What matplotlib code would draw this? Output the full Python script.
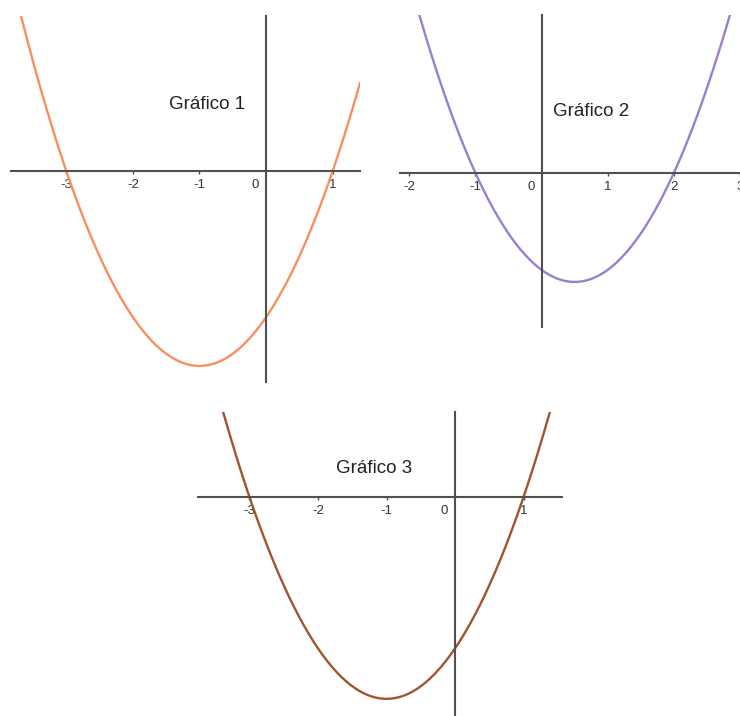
import numpy as np
import matplotlib
matplotlib.use("Agg")
import matplotlib.pyplot as plt

plt.rcParams['font.family'] = ['Liberation Sans', 'DejaVu Sans']

# each parabola y = (x - r1)(x - r2)
titles = ['Gráfico 1', 'Gráfico 2', 'Gráfico 3']
roots = [(-3, 1), (-1, 2), (-3, 1)]
colors = ['#f7905e', '#9a7fd1', '#a0552d']
xticks = [[-3, -2, -1, 1], [-2, -1, 1, 2, 3], [-3, -2, -1, 1]]
xlims = [(-3.83, 1.41), (-2.14, 2.98), (-3.75, 1.56)]
ylims = [(-4.33, 3.18), (-3.18, 3.26), (-4.32, 1.68)]
title_pos = [(-0.89, 1.36), (0.75, 1.26), (-1.18, 0.57)]

# axes boxes in pixels: left, top, right, bottom
W, H = 740, 716
boxes = [(11, 16, 360, 382), (400, 15, 740, 327), (198, 412, 562, 715)]

fig = plt.figure(figsize=(W / 100, H / 100), dpi=100)

for i in range(3):
    l, t, r, b = boxes[i]
    ax = fig.add_axes([l / W, (H - b) / H, (r - l) / W, (b - t) / H])
    ax.set_xlim(*xlims[i])
    ax.set_ylim(*ylims[i])
    ax.patch.set_alpha(0)

    for s in ['top', 'right']:
        ax.spines[s].set_visible(False)
    ax.spines['bottom'].set_position('zero')
    ax.spines['left'].set_position('zero')
    for s in ['bottom', 'left']:
        ax.spines[s].set_color('#505050')
        ax.spines[s].set_linewidth(1.5)

    ax.set_xticks(xticks[i])
    ax.set_xticklabels([str(v) for v in xticks[i]])
    ax.tick_params(axis='x', length=2, width=1, color='#505050', pad=4,
                   labelsize=9.5, labelcolor='#333333')
    ax.set_yticks([])
    # origin label sits left of the vertical axis
    ax.annotate('0', (0, 0), xytext=(-5, -6), textcoords='offset points',
                fontsize=9.5, color='#333333', ha='right', va='top')

    r1, r2 = roots[i]
    x = np.linspace(xlims[i][0], xlims[i][1], 400)
    y = (x - r1) * (x - r2)
    ax.plot(x, y, color=colors[i], lw=1.7)

    tx, ty = title_pos[i]
    ax.text(tx, ty, titles[i], fontsize=13.5, color='#222222', ha='center', va='center')

fig.savefig('out.png', dpi=100)
